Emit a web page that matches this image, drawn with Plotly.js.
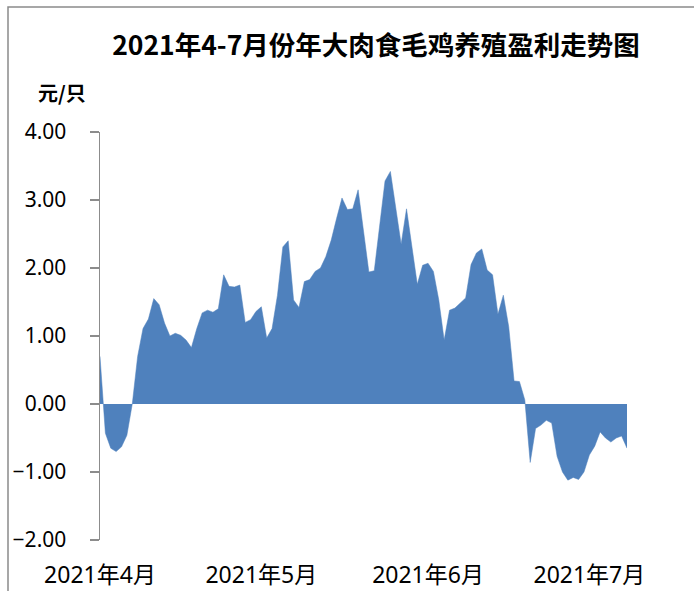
<!DOCTYPE html>
<html>
<head>
<meta charset="utf-8">
<script src="https://cdn.plot.ly/plotly-3.0.1.min.js"></script>
<style>
  html, body { margin: 0; padding: 0; background: #ffffff; }
  #chart { width: 694px; height: 591px; }
</style>
</head>
<body>
<div id="chart"></div>
<script>
// ---- data ----
const titleText = "2021年4-7月份年大肉食毛鸡养殖盈利走势图";
const unitLabel = "元/只";
const startDate = "2021-04-01";
const endDate = "2021-07-08";
// daily profit, 元/只, 2021-04-01 .. 2021-07-08
const profit = [
  0.70, -0.43, -0.65, -0.70, -0.63, -0.46, 0.00, 0.70, 1.11, 1.25,
  1.55, 1.46, 1.19, 1.00, 1.04, 1.01, 0.94, 0.83, 1.11, 1.34,
  1.38, 1.35, 1.40, 1.90, 1.73, 1.72, 1.75, 1.20, 1.24, 1.36,
  1.43, 0.97, 1.11, 1.60, 2.31, 2.40, 1.53, 1.42, 1.80, 1.83,
  1.95, 2.00, 2.17, 2.41, 2.73, 3.03, 2.86, 2.87, 3.15, 2.53,
  1.94, 1.96, 2.61, 3.28, 3.42, 2.88, 2.35, 2.87, 2.30, 1.76,
  2.04, 2.07, 1.95, 1.53, 0.94, 1.38, 1.41, 1.49, 1.56, 2.05,
  2.22, 2.28, 1.97, 1.90, 1.32, 1.60, 1.14, 0.34, 0.33, 0.06,
  -0.86, -0.36, -0.31, -0.24, -0.28, -0.77, -1.00, -1.12, -1.08, -1.11,
  -1.00, -0.75, -0.62, -0.41, -0.50, -0.56, -0.50, -0.47, -0.65
];
const monthTicks = ["2021-04-01", "2021-05-01", "2021-06-01", "2021-07-01"];
const monthLabels = ["2021年4月", "2021年5月", "2021年6月", "2021年7月"];
const yTicks = [-2, -1, 0, 1, 2, 3, 4];

// consecutive daily dates for the series
const dates = [];
{
  const d0 = new Date(startDate + "T00:00:00Z");
  for (let i = 0; i < profit.length; i++) {
    const d = new Date(d0.getTime() + i * 86400000);
    dates.push(d.toISOString().slice(0, 10));
  }
}

const axisGray = "#8c8c8c";
const fillBlue = "#4f81bd";
const font = "'Noto Sans', 'Noto Sans CJK SC', sans-serif";

const trace = {
  type: "scatter",
  mode: "lines",
  x: dates,
  y: profit,
  fill: "tozeroy",
  fillcolor: fillBlue,
  line: { color: fillBlue, width: 0.5 },
  hoverinfo: "x+y"
};

// paper coords for the outer frame
const L = 100, R = 67, T = 132, B = 51, W = 694, H = 591;
const pw = W - L - R, ph = H - T - B;
const px = v => (v - L) / pw;
const py = v => (H - B - v) / ph;

const layout = {
  width: W, height: H,
  margin: { l: L, r: R, t: T, b: B, pad: 0 },
  paper_bgcolor: "#ffffff",
  plot_bgcolor: "#ffffff",
  showlegend: false,
  font: { family: font, color: "#000000" },
  title: {
    text: titleText,
    font: { family: "'Noto Sans CJK SC', sans-serif", size: 26.5, weight: 600, color: "#000000" },
    x: 376 / W, xanchor: "center", xref: "container",
    y: 1 - 46 / H, yanchor: "middle", yref: "container"
  },
  xaxis: {
    type: "date",
    range: [startDate, endDate],
    tickvals: monthTicks,
    ticktext: monthLabels,
    showline: false,
    showgrid: false,
    zeroline: false,
    ticks: "",
    ticklabelstandoff: 19,
    tickfont: { family: font, size: 23, color: "#000000" },
    fixedrange: true
  },
  xaxis2: {
    type: "date",
    overlaying: "x",
    anchor: "free",
    position: (0 - (-2)) / 6,
    range: [startDate, endDate],
    tickvals: monthTicks,
    showticklabels: false,
    showline: true,
    linecolor: axisGray,
    linewidth: 1.5,
    ticks: "outside",
    ticklen: 8,
    tickwidth: 1.5,
    tickcolor: axisGray,
    showgrid: false,
    zeroline: false
  },
  yaxis: {
    range: [-2, 4],
    tickvals: yTicks,
    tickformat: ".2f",
    showline: true,
    linecolor: axisGray,
    linewidth: 1.5,
    ticks: "outside",
    ticklen: 9,
    tickwidth: 1.5,
    tickcolor: axisGray,
    showgrid: false,
    zeroline: false,
    ticklabelstandoff: 19,
    tickfont: { family: font, size: 21, color: "#000000" },
    fixedrange: true
  },
  annotations: [{
    text: "<b>" + unitLabel + "</b>",
    xref: "paper", yref: "paper",
    x: px(62), y: py(93),
    xanchor: "center", yanchor: "middle",
    showarrow: false,
    font: { family: "'Noto Sans CJK SC', sans-serif", size: 20, color: "#000000" }
  }],
  shapes: [{
    type: "rect",
    xref: "paper", yref: "paper",
    x0: px(8), x1: px(W + 20),
    y0: py(H + 20), y1: py(7),
    line: { color: "#8a8a8a", width: 1.5 },
    fillcolor: "rgba(0,0,0,0)",
    layer: "below"
  }]
};

Plotly.newPlot("chart", [trace], layout, { staticPlot: true, displayModeBar: false });
</script>
</body>
</html>
